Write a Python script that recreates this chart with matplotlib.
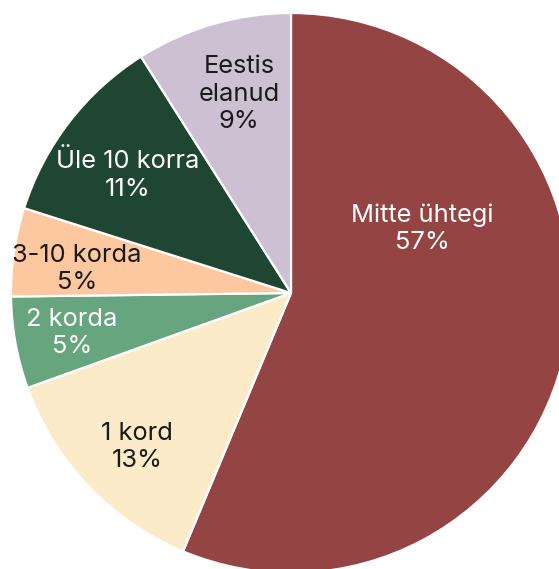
import matplotlib
matplotlib.use("Agg")
import matplotlib.pyplot as plt

# Data
categories = ["Mitte ühtegi", "1 kord", "2 korda", "3-10 korda", "Üle 10 korra", "Eestis elanud"]
shares = [56.3, 13.2, 5.3, 5.1, 11.1, 9.0]            # slice sizes as drawn
shown_pct = ["57%", "13%", "5%", "5%", "11%", "9%"]   # printed labels
label_text = ["Mitte ühtegi", "1 kord", "2 korda", "3-10 korda", "Üle 10 korra", "Eestis\nelanud"]

# Styles
colors = ["#944543", "#FBEBC8", "#66A57E", "#FDC89F", "#1F4533", "#CEC0D3"]
text_colors = ["white", "#1a1a1a", "white", "#1a1a1a", "white", "#1a1a1a"]
label_pos = [(422, 229), (137, 447), (72, 333), (77, 269), (128, 175), (239, 94)]  # pixel positions

W, H = 559, 569
fig = plt.figure(figsize=(W / 100, H / 100), dpi=100)
ax = fig.add_axes([0, 0, 1, 1])

cx, cy, r = 291, 293, 280
ax.pie(shares, colors=colors, startangle=90, counterclock=False,
       center=(cx, H - cy), radius=r,
       wedgeprops=dict(edgecolor="white", linewidth=1.6))
ax.set_xlim(0, W)
ax.set_ylim(0, H)
ax.set_aspect("equal")
ax.axis("off")

for lab, pct, col, (px, py) in zip(label_text, shown_pct, text_colors, label_pos):
    ax.text(px, H - py, f"{lab}\n{pct}", ha="center", va="center", color=col,
            fontsize=18.3, family=["Inter", "DejaVu Sans"], linespacing=1.24,
            multialignment="center")

fig.savefig("out.png", dpi=100)
